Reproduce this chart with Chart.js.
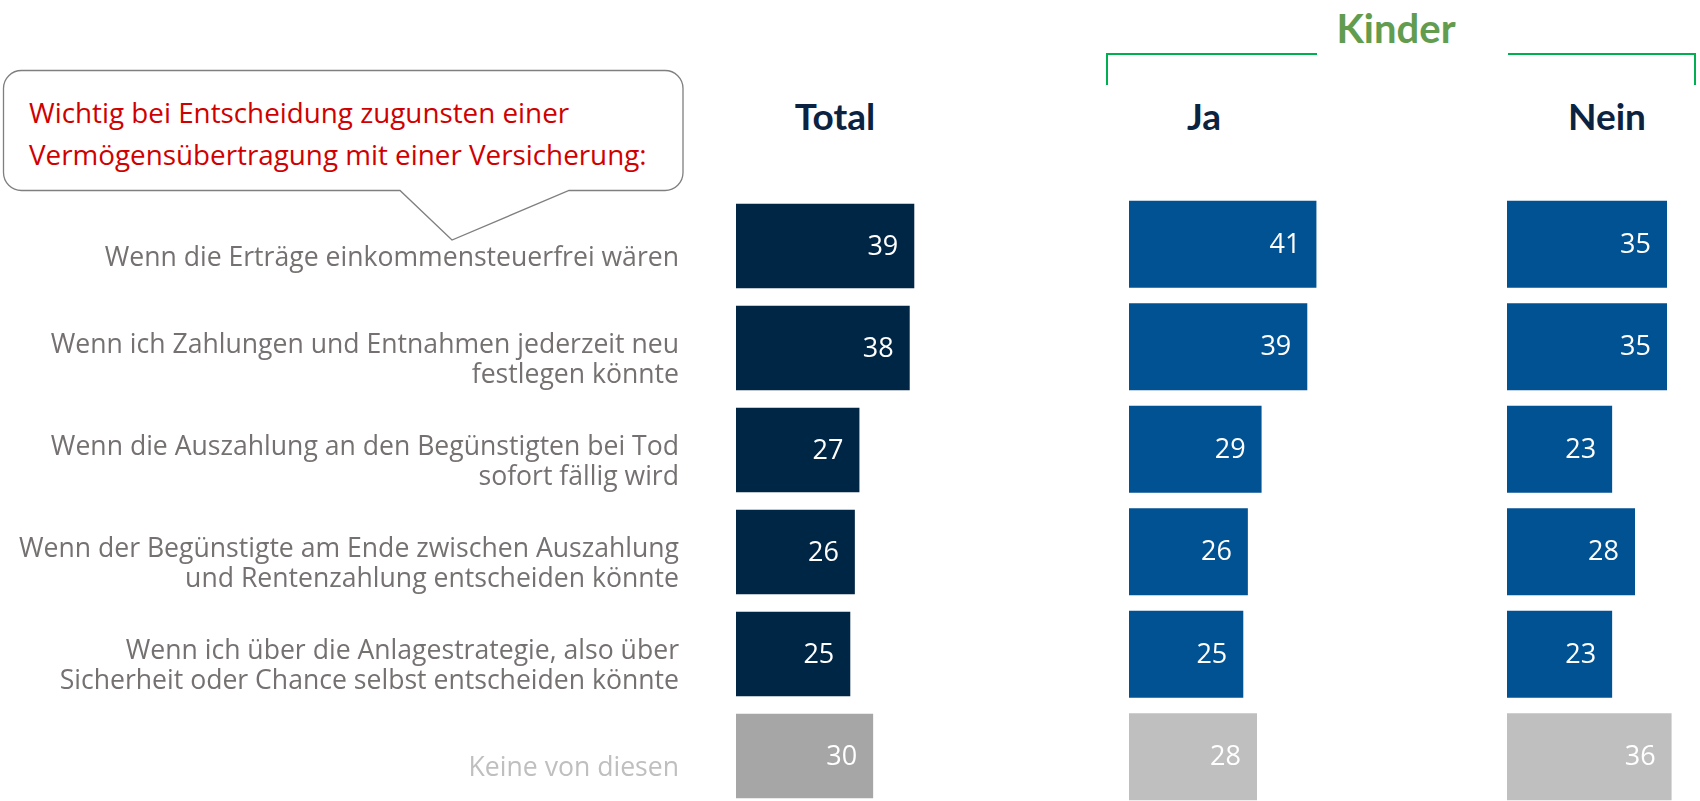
<!DOCTYPE html>
<html lang="de">
<head>
<meta charset="utf-8">
<title>Vermögensübertragung mit Versicherung</title>
<script src="https://cdn.jsdelivr.net/npm/chart.js@4.4.1/dist/chart.umd.min.js"></script>
<style>
  html, body { margin: 0; padding: 0; background: #fff; overflow: hidden; }
  body { width: 1700px; height: 801px; position: relative; font-family: "Open Sans", sans-serif; }
  .box { position: absolute; }
  .head { position: absolute; font-family: Lato, sans-serif; font-weight: 700; color: #0b2340; font-size: 37px; transform: translateX(-50%); white-space: nowrap; line-height: 1; }
  #kinder { color: #629c4e; font-size: 40px; }
  #frage { position: absolute; left: 29px; top: 91px; color: #d00000; font-size: 27.8px; line-height: 42px; white-space: nowrap; }
  svg { position: absolute; left: 0; top: 0; }
</style>
</head>
<body>

<svg width="1700" height="801">
  <path d="M21.5 70.5 H665 A18 18 0 0 1 683 88.5 V172.5 A18 18 0 0 1 665 190.5 H569 L452 240 L400 190.5 H21.5 A18 18 0 0 1 3.5 172.5 V88.5 A18 18 0 0 1 21.5 70.5 Z"
        fill="#fff" stroke="#7f7f7f" stroke-width="1.3"/>
  <!-- Klammer über Ja / Nein -->
  <polyline points="1107,85 1107,54 1317,54" fill="none" stroke="#00b050" stroke-width="2"/>
  <polyline points="1508,54 1695,54 1695,85" fill="none" stroke="#00b050" stroke-width="2"/>
</svg>

<div id="frage">Wichtig bei Entscheidung zugunsten einer<br>Vermögensübertragung mit einer Versicherung:</div>

<div class="head" id="kinder" style="left:1396px; top:8px;">Kinder</div>
<div class="head" style="left:835px; top:97px;">Total</div>
<div class="head" style="left:1204px; top:97px;">Ja</div>
<div class="head" style="left:1607px; top:97px;">Nein</div>

<div class="box" style="left:0; top:195px; width:928px; height:612px;"><canvas id="chartTotal"></canvas></div>
<div class="box" style="left:1129px; top:193px; width:192px; height:615px;"><canvas id="chartJa"></canvas></div>
<div class="box" style="left:1507px; top:193px; width:192px; height:615px;"><canvas id="chartNein"></canvas></div>

<script>
const kategorien = [
    'Wenn die Erträge einkommensteuerfrei wären',
    ['Wenn ich Zahlungen und Entnahmen jederzeit neu', 'festlegen könnte'],
    ['Wenn die Auszahlung an den Begünstigten bei Tod', 'sofort fällig wird'],
    ['Wenn der Begünstigte am Ende zwischen Auszahlung', 'und Rentenzahlung entscheiden könnte'],
    ['Wenn ich über die Anlagestrategie, also über', 'Sicherheit oder Chance selbst entscheiden könnte'],
    'Keine von diesen'
];
const werteTotal = [39, 38, 27, 26, 25, 30];
const werteJa = [41, 39, 29, 26, 25, 28];
const werteNein = [35, 35, 23, 28, 23, 36];

const skalaMax = 42;

// Wert in Weiß rechts innen im Balken
const wertLabels = {
    id: 'wertLabels',
    afterDatasetsDraw(chart) {
        const ctx = chart.ctx;
        const meta = chart.getDatasetMeta(0);
        const daten = chart.data.datasets[0].data;
        ctx.save();
        ctx.font = '27px "Open Sans"';
        ctx.fillStyle = '#ffffff';
        ctx.textAlign = 'right';
        ctx.textBaseline = 'middle';
        meta.data.forEach((bar, i) => {
            ctx.fillText(daten[i], bar.x - 16, bar.y + 1);
        });
        ctx.restore();
    }
};

const farben = (haupt, grau) => kategorien.map((k, i) => i === kategorien.length - 1 ? grau : haupt);

const erstelleChart = (id, werte, haupt, grau, mitAchse, dicke) => {
    return new Chart(document.getElementById(id), {
        type: 'bar',
        data: {
            labels: kategorien,
            datasets: [{
                data: werte,
                backgroundColor: farben(haupt, grau),
                borderWidth: 0,
                barPercentage: dicke,
                categoryPercentage: 1
            }]
        },
        options: {
            indexAxis: 'y',
            responsive: true,
            maintainAspectRatio: false,
            animation: false,
            layout: { padding: 0 },
            plugins: {
                legend: { display: false },
                tooltip: { enabled: false }
            },
            scales: {
                x: { display: false, min: 0, max: skalaMax },
                y: {
                    display: mitAchse,
                    border: { display: false },
                    grid: { display: false, drawTicks: false },
                    ticks: {
                        autoSkip: false,
                        padding: 57,
                        labelOffset: 12,
                        color: ctx => ctx.index === kategorien.length - 1 ? '#bfbfbf' : '#767171',
                        font: { family: '"Open Sans"', size: 26.6, lineHeight: 1.13 }
                    },
                    afterFit(scale) {
                        // nur die Total-Grafik trägt die Beschriftung links
                        if (!mitAchse) return;
                        scale.width = 736;
                        scale.paddingTop = 0;
                        scale.paddingBottom = 0;
                    }
                }
            }
        },
        plugins: [wertLabels]
    });
};

erstelleChart('chartTotal', werteTotal, '#002645', '#a6a6a6', true, 0.83);
erstelleChart('chartJa', werteJa, '#005293', '#bfbfbf', false, 0.85);
erstelleChart('chartNein', werteNein, '#005293', '#bfbfbf', false, 0.85);
</script>
</body>
</html>
